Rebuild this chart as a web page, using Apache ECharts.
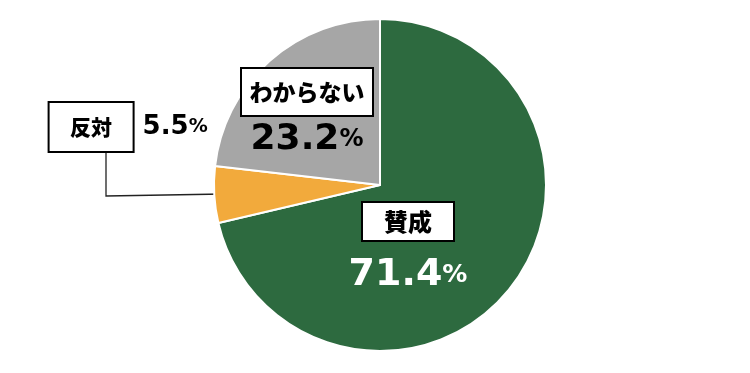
<!DOCTYPE html>
<html><head><meta charset="utf-8">
<script src="https://cdn.jsdelivr.net/npm/echarts@6/dist/echarts.min.js"></script>
<style>html,body{margin:0;padding:0;background:#fff}#c{width:750px;height:373px}</style>
</head><body><div id="c"></div>
<script>
const categories = ['賛成', '反対', 'わからない'];
const values = [71.4, 5.5, 23.2];
const colors = ['#2D6A3F', '#F2AA3C', '#A6A6A6'];

const JP = '"Noto Sans CJK JP", sans-serif';
const NUM = '"DejaVu Sans", sans-serif';
// label anchor positions (layout only)
const labelPos = [
  { x: 408, y: 203, align: 'center' },
  { x: 49, y: 103, align: 'left' },
  { x: 307, y: 69, align: 'center' }
];

function box(w, h, fs) {
  return { width: w, height: h, lineHeight: h, backgroundColor: '#fff', borderColor: '#000', borderWidth: 2,
    fontSize: fs, fontWeight: 900, color: '#000', fontFamily: JP, align: 'center', verticalAlign: 'middle' };
}
const labelStyles = [
  {
    formatter: p => `{box|${p.name}}\n{v|${p.value.toFixed(1)}}{p|%}`,
    rich: {
      box: box(90, 37, 24),
      v: { fontSize: 38, fontWeight: 'bold', color: '#fff', fontFamily: NUM, lineHeight: 70 },
      p: { fontSize: 25, fontWeight: 'bold', color: '#fff', fontFamily: NUM, lineHeight: 70 }
    }
  },
  {
    formatter: p => `{box|${p.name}}{sp| }{v|${p.value.toFixed(1)}}{p|%}`,
    rich: {
      box: box(83, 48, 21),
      sp: { width: 10 },
      v: { fontSize: 26, fontWeight: 'bold', color: '#000', fontFamily: NUM, verticalAlign: 'middle' },
      p: { fontSize: 19, fontWeight: 'bold', color: '#000', fontFamily: NUM, verticalAlign: 'middle' }
    }
  },
  {
    formatter: p => `{box|${p.name}}\n{v|${p.value.toFixed(1)}}{p|%}`,
    rich: {
      box: box(130, 46, 23),
      v: { fontSize: 36, fontWeight: 'bold', color: '#000', fontFamily: NUM, lineHeight: 50 },
      p: { fontSize: 24, fontWeight: 'bold', color: '#000', fontFamily: NUM, lineHeight: 50 }
    }
  }
];

const data = categories.map((c, i) => ({
  name: c,
  value: values[i],
  itemStyle: { color: colors[i] },
  label: Object.assign({ show: true }, labelStyles[i]),
  labelLine: { show: i === 1, lineStyle: { color: '#222', width: 1.3 } }
}));

const chart = echarts.init(document.getElementById('c'), null, { renderer: 'canvas' });
chart.setOption({
  animation: false,
  series: [{
    type: 'pie',
    center: [380, 185],
    radius: 166,
    startAngle: 90,
    clockwise: true,
    itemStyle: { borderColor: '#fff', borderWidth: 2 },
    label: { position: 'outside' },
    data: data,
    labelLayout: function (params) {
      const p = labelPos[params.dataIndex];
      const r = { x: p.x, y: p.y, align: p.align, verticalAlign: 'top' };
      if (params.dataIndex === 1) {
        r.labelLinePoints = [[224, 194], [106, 196], [106, 151]];
      }
      return r;
    }
  }]
});
</script></body></html>
